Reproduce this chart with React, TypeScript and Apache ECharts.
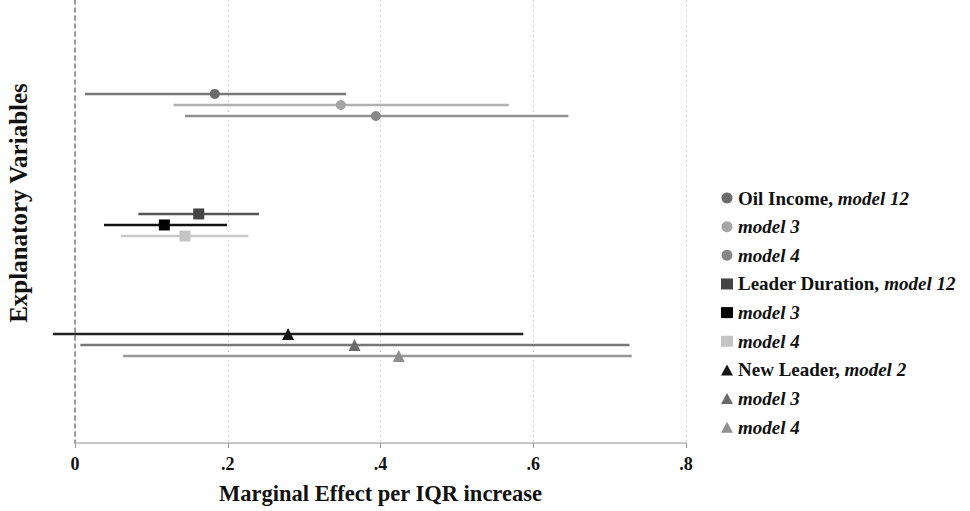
import React, { useEffect, useRef } from "react";
import * as echarts from "echarts";

// Legend labels: [plain bold part, italic bold part]
const labelPlain = ["Oil Income, ", "", "", "Leader Duration, ", "", "", "New Leader, ", "", ""];
const labelItalic = ["model 12", "model 3", "model 4", "model 12", "model 3", "model 4", "model 2", "model 3", "model 4"];
const seriesNames = [
  "Oil Income, model 12", "Oil Income, model 3", "Oil Income, model 4",
  "Leader Duration, model 12", "Leader Duration, model 3", "Leader Duration, model 4",
  "New Leader, model 2", "New Leader, model 3", "New Leader, model 4",
];
const estimates = [0.183, 0.348, 0.394, 0.162, 0.117, 0.144, 0.279, 0.366, 0.424];
const lowerCI = [0.013, 0.129, 0.144, 0.083, 0.038, 0.060, -0.029, 0.007, 0.063];
const upperCI = [0.355, 0.568, 0.646, 0.241, 0.199, 0.227, 0.587, 0.726, 0.729];
const groupIndex = [0, 0, 0, 1, 1, 1, 2, 2, 2];
const modelIndex = [0, 1, 2, 0, 1, 2, 0, 1, 2];
const groupPositions = [1, 2, 3];
const modelOffsets = [-0.092, 0, 0.092];
const xTicks = ["0", ".2", ".4", ".6", ".8"];
const yTitle = "Explanatory Variables";
const xTitle = "Marginal Effect per IQR increase";

const symbols = ["circle", "circle", "circle", "rect", "rect", "rect", "triangle", "triangle", "triangle"];
const pointColors = ["#6b6b6b", "#a6a6a6", "#878787", "#444444", "#000000", "#c4c4c4", "#151515", "#6a6a6a", "#909090"];
const lineColors = ["#777777", "#b0b0b0", "#909090", "#555555", "#111111", "#c8c8c8", "#222222", "#777777", "#999999"];

const FONT = "Liberation Serif";

export default function App() {
  const ref = useRef<HTMLDivElement>(null);
  useEffect(() => {
    if (!ref.current) return;
    const chart = echarts.init(ref.current, null, { renderer: "svg" });
    const ypos = estimates.map((_, i) => groupPositions[groupIndex[i]] + modelOffsets[modelIndex[i]]);
    const ciData = estimates.map((_, i) => [lowerCI[i], upperCI[i], ypos[i], i]);
    const pointSeries = estimates.map((v, i) => ({
      type: "scatter",
      name: seriesNames[i],
      data: [[v, ypos[i]]],
      symbol: symbols[i],
      symbolSize: symbols[i] === "circle" ? 10 : symbols[i] === "rect" ? 11 : 12,
      itemStyle: { color: pointColors[i], opacity: 1 },
      z: 5,
      clip: false,
    }));
    const option: any = {
      animation: false,
      backgroundColor: "#ffffff",
      grid: { left: 75, right: 284, top: 0, bottom: 68 },
      graphic: [
        {
          type: "text",
          x: 18,
          y: 203,
          rotation: Math.PI / 2,
          style: {
            text: yTitle,
            fontFamily: FONT,
            fontWeight: "bold",
            fontSize: 25,
            fill: "#111",
            textAlign: "center",
            textVerticalAlign: "middle",
          },
        },
      ],
      xAxis: {
        type: "value",
        min: 0,
        max: 0.8,
        interval: 0.2,
        name: xTitle,
        nameLocation: "middle",
        nameGap: 39,
        nameTextStyle: { fontFamily: FONT, fontWeight: "bold", fontSize: 22.5, color: "#111" },
        axisLine: { show: true, lineStyle: { color: "#b5b5b5", width: 1.5 } },
        axisTick: { show: true, length: 5, lineStyle: { color: "#999" } },
        axisLabel: {
          fontFamily: FONT,
          fontWeight: "bold",
          fontSize: 18,
          color: "#111",
          margin: 12,
          formatter: (v: number) => xTicks[Math.round(v / 0.2)],
        },
        splitLine: { show: true, lineStyle: { color: "#d6d6d6", type: [2, 3], width: 1 } },
      },
      yAxis: {
        type: "value",
        inverse: true,
        min: 0.125,
        max: 3.817,
        axisLine: { show: true, lineStyle: { color: "#7a7a7a", width: 1.5, type: [4, 4] } },
        axisTick: { show: false },
        axisLabel: { show: false },
        splitLine: { show: false },
      },
      legend: {
        orient: "vertical",
        left: 716,
        top: 183,
        itemWidth: 12,
        itemHeight: 11,
        itemGap: 8.65,
        data: seriesNames.map((n, i) => ({ name: n, icon: symbols[i] })),
        formatter: (name: string) => {
          const i = seriesNames.indexOf(name);
          return (labelPlain[i] ? `{b|${labelPlain[i]}}` : "") + `{i|${labelItalic[i]}}`;
        },
        textStyle: {
          lineHeight: 20,
          rich: {
            b: { fontFamily: FONT, fontWeight: "bold", fontSize: 19, color: "#111", lineHeight: 20 },
            i: { fontFamily: FONT, fontWeight: "bold", fontStyle: "italic", fontSize: 19, color: "#111", lineHeight: 20 },
          },
        },
      },
      series: [
        {
          type: "custom",
          name: "CI",
          clip: false,
          z: 2,
          data: ciData,
          encode: { x: [0, 1], y: 2 },
          renderItem: (params: any, api: any) => {
            const lo = api.coord([api.value(0), api.value(2)]);
            const hi = api.coord([api.value(1), api.value(2)]);
            const idx = api.value(3);
            return {
              type: "line",
              shape: { x1: lo[0], y1: lo[1], x2: hi[0], y2: hi[1] },
              style: { stroke: lineColors[idx], lineWidth: 2.5 },
            };
          },
        },
        ...pointSeries,
      ],
    };
    chart.setOption(option);
    return () => chart.dispose();
  }, []);
  return (
    <div
      ref={ref}
      style={{ position: "fixed", left: 0, top: 0, width: 970, height: 511, background: "#fff" }}
    />
  );
}
